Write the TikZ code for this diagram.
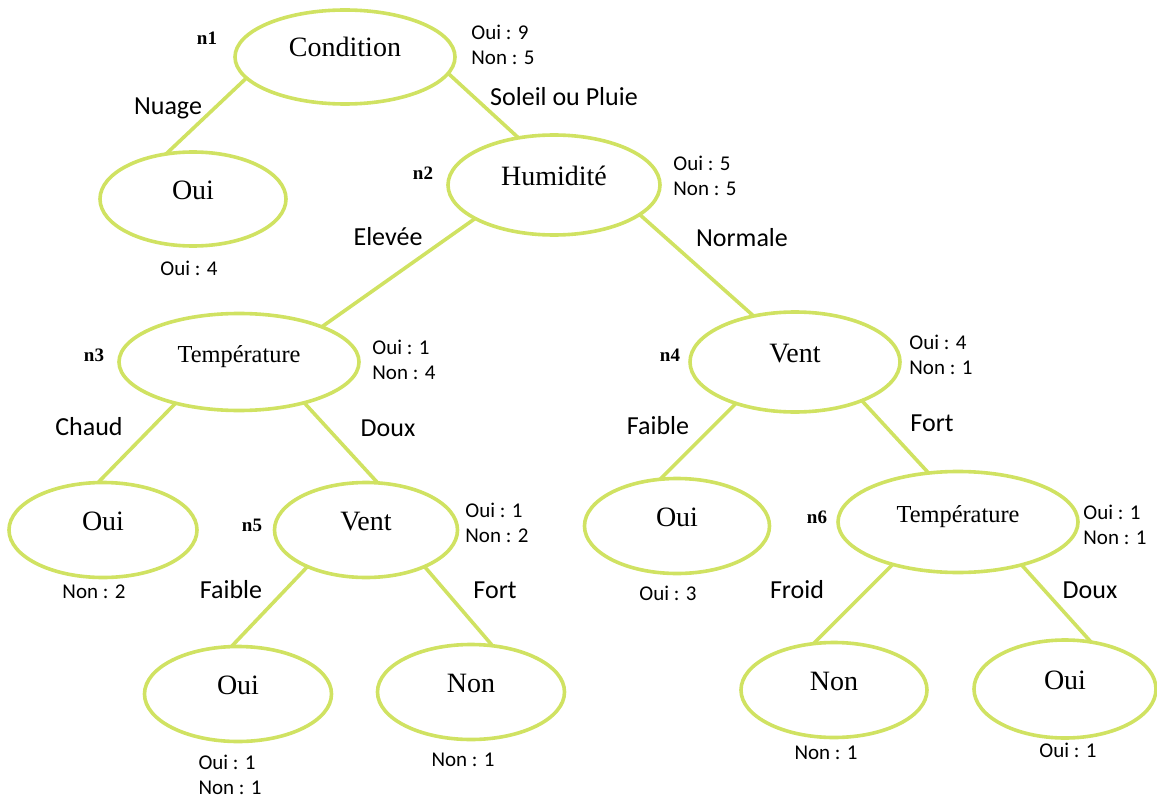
\documentclass[tikz,border=0pt]{standalone}
\usepackage{fontspec}
\setmainfont{Liberation Serif}
\newfontfamily\labelfont{Carlito}
\usetikzlibrary{shapes.geometric}
\definecolor{branch}{RGB}{208,226,98}
\begin{document}
\begin{tikzpicture}[x=0.5pt,y=-0.5pt,
  tnode/.style={ellipse, draw=branch, line width=1.8pt, inner sep=0pt, outer sep=0pt,
    font=\fontsize{14}{16}\selectfont, text height=10pt, text depth=10pt},
  small/.style={tnode, font=\fontsize{12.2}{14}\selectfont},
  link/.style={draw=branch, line width=1.8pt},
  edgelabel/.style={font=\labelfont\fontsize{13}{15}\selectfont},
  count/.style={font=\labelfont\fontsize{10.5}{12.5}\selectfont, align=left, inner sep=0pt},
  tag/.style={font=\bfseries\fontsize{9.5}{11}\selectfont}]
\useasboundingbox (0,0) rectangle (1157,797);

% decision nodes and leaves
\node[tnode, minimum width=220pt/2, minimum height=94pt/2] (cond) at (345,57) {Condition};
\node[tnode, minimum width=186pt/2, minimum height=94pt/2] (l1) at (193,199) {Oui};
\node[tnode, minimum width=212pt/2, minimum height=100pt/2] (hum) at (554,185) {Humidité};
\node[small, minimum width=240pt/2, minimum height=97pt/2] (temp1) at (239,362) {Température};
\node[tnode, minimum width=188pt/2, minimum height=95pt/2] (l2) at (103,530) {Oui};
\node[tnode, minimum width=183pt/2, minimum height=95pt/2] (vent1) at (366,530) {Vent};
\node[tnode, minimum width=187pt/2, minimum height=95pt/2] (l3) at (238,694) {Oui};
\node[tnode, minimum width=187pt/2, minimum height=95pt/2] (l4) at (471,692) {Non};
\node[tnode, minimum width=210pt/2, minimum height=100pt/2] (vent2) at (795,362) {Vent};
\node[tnode, minimum width=185pt/2, minimum height=95pt/2] (l5) at (677,526) {Oui};
\node[small, minimum width=240pt/2, minimum height=101pt/2] (temp2) at (958,522) {Température};
\node[tnode, minimum width=186pt/2, minimum height=95pt/2] (l6) at (834,690) {Non};
\node[tnode, minimum width=182pt/2, minimum height=98pt/2] (l7) at (1065,689) {Oui};

% branches
\draw[link] (cond.192) -- (l1.121);
\draw[link] (cond.351) -- (hum.127);
\draw[link] (hum.203) -- (temp1.23);
\draw[link] (hum.341) -- (vent2.132);
\draw[link] (temp1.213) -- (l2.96);
\draw[link] (temp1.328) -- (vent1.76);
\draw[link] (vent1.212) -- (l3.98);
\draw[link] (vent1.328) -- (l4.65);
\draw[link] (vent2.215) -- (l5.110);
\draw[link] (vent2.330) -- (temp2.121);
\draw[link] (temp2.213) -- (l6.114);
\draw[link] (temp2.326) -- (l7.61);

% branch values
\node[edgelabel] (e1) at (168,108) {Nuage};
\node[edgelabel] (e2) at (564,97) {Soleil ou Pluie};
\node[edgelabel] (e3) at (388,237) {Elevée};
\node[edgelabel] (e4) at (742,238) {Normale};
\node[edgelabel] (e5) at (89,427) {Chaud};
\node[edgelabel] (e6) at (388,428) {Doux};
\node[edgelabel] (e7) at (231,590) {Faible};
\node[edgelabel] (e8) at (495,590) {Fort};
\node[edgelabel] (e9) at (658,426) {Faible};
\node[edgelabel] (e10) at (932,423) {Fort};
\node[edgelabel] (e11) at (797,590) {Froid};
\node[edgelabel] (e12) at (1090,590) {Doux};

% node names
\node[tag] (t1) at (207,38) {n1};
\node[tag] (t2) at (423,173) {n2};
\node[tag] (t3) at (94,355) {n3};
\node[tag] (t4) at (670,355) {n4};
\node[tag] (t5) at (252,525) {n5};
\node[tag] (t6) at (817,517) {n6};

% class counts at internal nodes
\node[count, anchor=west] (c1) at (471,44.5) {Oui : 9\\Non : 5};
\node[count, anchor=west] (c2) at (673,175.5) {Oui : 5\\Non : 5};
\node[count, anchor=west] (c3) at (372,359.5) {Oui : 1\\Non : 4};
\node[count, anchor=west] (c4) at (909,354.5) {Oui : 4\\Non : 1};
\node[count, anchor=west] (c5) at (465,522.5) {Oui : 1\\Non : 2};
\node[count, anchor=west] (c6) at (1083,524.5) {Oui : 1\\Non : 1};

% class counts at leaves
\node[count] (d1) at (189,268) {Oui : 4};
\node[count] (d2) at (94,592) {Non : 2};
\node[count] (d3) at (230,774.5) {Oui : 1\\Non : 1};
\node[count] (d4) at (463,760) {Non : 1};
\node[count] (d5) at (668,593) {Oui : 3};
\node[count] (d6) at (826,753) {Non : 1};
\node[count] (d7) at (1068,750) {Oui : 1};
\end{tikzpicture}
\end{document}
